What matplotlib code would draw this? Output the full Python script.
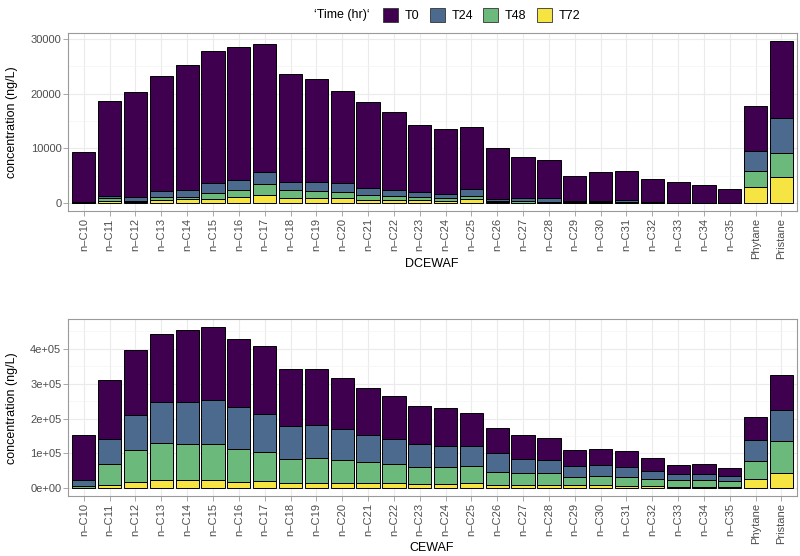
import numpy as np
import matplotlib
matplotlib.use("Agg")
import matplotlib.pyplot as plt
from matplotlib.patches import Patch

plt.rcParams["font.family"] = ["Liberation Sans", "DejaVu Sans"]

# compounds on the x axis
compounds = ["n\u2013C%d" % n for n in range(10, 36)] + ["Phytane", "Pristane"]
times = ["T0", "T24", "T48", "T72"]
colors = ["#3f0050", "#4b6a8e", "#6cb97c", "#f6e443"]

# DCEWAF, ng/L
dce_t0 = [9230, 17380, 19210, 20970, 22780, 23990, 24300, 23450, 19690, 18900,
          16840, 15630, 14300, 12300, 11810, 11310, 9270, 7570, 6960, 4420,
          5270, 5150, 4060, 3780, 3240, 2590, 8200, 13900]
dce_t24 = [80, 370, 730, 1090, 1400, 1870, 1740, 2120, 1390, 1570,
           1570, 1320, 1010, 840, 730, 1270, 370, 550, 610, 340,
           340, 470, 150, 40, 40, 40, 3690, 6400]
dce_t48 = [40, 410, 210, 480, 390, 1090, 1350, 1990, 1510, 1340,
           1160, 860, 800, 490, 420, 550, 210, 260, 200, 100,
           100, 150, 100, 30, 30, 20, 2910, 4360]
dce_t72 = [30, 490, 150, 610, 700, 800, 1090, 1530, 980, 910,
           910, 670, 550, 670, 490, 800, 150, 100, 100, 50,
           50, 50, 50, 30, 30, 20, 2900, 4840]

# CEWAF, thousands of ng/L
ce_t0 = [128.2, 170, 184, 196, 206, 209, 195.6, 195.6, 165, 162,
         145, 134.6, 122.8, 108.3, 109, 95, 72, 69.1, 61.1, 45.7,
         48.3, 44.8, 35.2, 27.6, 26.7, 21.8, 64.8, 100]
ce_t24 = [17.1, 71.4, 102.4, 118.4, 121.3, 125.3, 120, 108.2, 93.2, 95.3,
          90, 78.7, 73.4, 64.8, 62, 59.1, 52.4, 38.1, 39, 31.5,
          31.4, 28.6, 22.9, 17.1, 19, 16.2, 60, 88.7]
ce_t48 = [4.7, 60, 91.6, 105.7, 102.8, 103.8, 94, 84.8, 68.6, 69.5,
          64.8, 59.1, 54.3, 48.6, 46.7, 47.7, 39, 34.3, 34.3, 24.7,
          25.7, 25.7, 21.9, 18.1, 18.1, 15.2, 53.3, 94.1]
ce_t72 = [2, 8.6, 17, 22.9, 22.9, 22.9, 19, 20, 16.2, 16.2,
          16.2, 15.2, 14.3, 13.3, 13.3, 15.2, 8.6, 10.5, 8.6, 8.6,
          8.6, 7.6, 5.7, 4.8, 4.8, 4.8, 25.7, 42.9]

dce_ticks = [0, 10000, 20000, 30000]
dce_ticklabels = ["0", "10000", "20000", "30000"]
ce_ticks = [0, 100000, 200000, 300000, 400000]
ce_ticklabels = ["0e+00", "1e+05", "2e+05", "3e+05", "4e+05"]


def stacked(ax, series, ticks, ticklabels):
    x = np.arange(len(compounds))
    # stack order from bottom: T72, T48, T24, T0
    bottom = np.zeros(len(compounds))
    for vals, col in zip(series[::-1], colors[::-1]):
        ax.bar(x, vals, 0.9, bottom=bottom.copy(), color=col, edgecolor="black",
               linewidth=0.7, zorder=3)
        bottom = bottom + np.asarray(vals)
    top = bottom.max()
    ax.set_xticks(x)
    ax.set_xticklabels(compounds, rotation=90, fontsize=8, color="#4d4d4d")
    ax.set_yticks(ticks)
    ax.set_yticklabels(ticklabels, fontsize=8, color="#4d4d4d")
    step = ticks[1] - ticks[0]
    minor = [t + step / 2 for t in ticks]
    ax.set_yticks(minor, minor=True)
    ax.set_ylim(-0.05 * top, 1.05 * top)
    ax.set_xlim(-0.6, len(compounds) - 0.4)
    ax.tick_params(axis="y", which="minor", length=0)
    ax.tick_params(which="major", length=3.5, width=0.6, color="#9a9a9a", pad=1.5)
    ax.grid(True, which="major", color="#ebebeb", linewidth=0.8, zorder=0)
    ax.grid(True, which="minor", axis="y", color="#f4f4f4", linewidth=0.5, zorder=0)
    ax.set_axisbelow(True)
    for s in ax.spines.values():
        s.set_color("#9a9a9a")
        s.set_linewidth(0.8)


fig = plt.figure(figsize=(8, 5.56), dpi=100)
W, H = 800, 556

ax1 = fig.add_axes([68.3 / W, 1 - 211.4 / H, (797 - 68.3) / W, (211.4 - 33.3) / H])
stacked(ax1, [dce_t0, dce_t24, dce_t48, dce_t72], dce_ticks, dce_ticklabels)

ce = [np.array(s) * 1000 for s in (ce_t0, ce_t24, ce_t48, ce_t72)]
ax2 = fig.add_axes([68.3 / W, 1 - 496.4 / H, (797 - 68.3) / W, (496.4 - 319.3) / H])
stacked(ax2, ce, ce_ticks, ce_ticklabels)

fig.text(432 / W, 1 - 264 / H, "DCEWAF", ha="center", va="center", fontsize=9)
fig.text(432 / W, 1 - 548 / H, "CEWAF", ha="center", va="center", fontsize=9)
fig.text(12 / W, 1 - 122 / H, "concentration (ng/L)", rotation=90,
         ha="center", va="center", fontsize=9)
fig.text(12 / W, 1 - 408 / H, "concentration (ng/L)", rotation=90,
         ha="center", va="center", fontsize=9)

# legend across the top
fig.text(314 / W, 1 - 15 / H, "\u2018Time (hr)\u2018", ha="left", va="center", fontsize=9)
handles = [Patch(facecolor=c, edgecolor="#333333", linewidth=0.6) for c in colors]
fig.legend(handles, times, ncol=4, frameon=False, loc="center left",
           bbox_to_anchor=(377 / W, 1 - 15 / H), borderpad=0, fontsize=9,
           handlelength=1.2, handleheight=1.4, handletextpad=0.55,
           columnspacing=0.8)

fig.savefig("out.png", dpi=100)
